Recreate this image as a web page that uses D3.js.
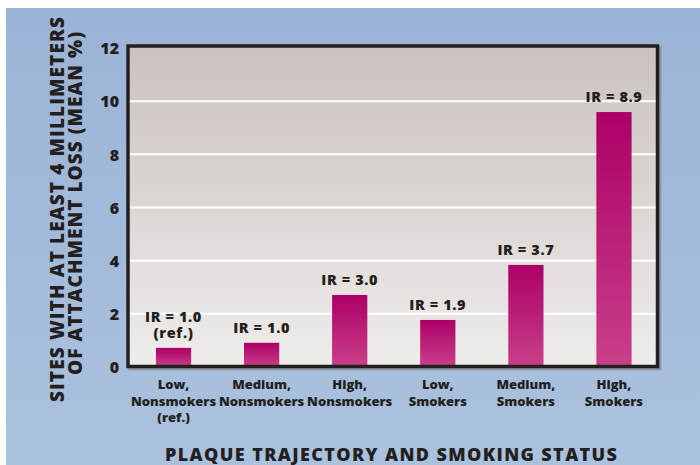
<!DOCTYPE html>
<html>
<head>
<meta charset="utf-8">
<script src="https://cdn.jsdelivr.net/npm/d3@7"></script>
<style>
  html, body { margin: 0; padding: 0; background: #fff; }
  svg { display: block; }
  text { font-family: "Open Sans", "Lato", "DejaVu Sans", sans-serif; font-weight: 800; fill: #231f20; }
</style>
</head>
<body>
<svg id="chart" width="700" height="465"></svg>
<script>
// Group labels (one entry per line of the tick label)
const categories = [
  ["Low,", "Nonsmokers", "(ref.)"],
  ["Medium,", "Nonsmokers"],
  ["High,", "Nonsmokers"],
  ["Low,", "Smokers"],
  ["Medium,", "Smokers"],
  ["High,", "Smokers"]
];
// Mean % of sites with >= 4 mm attachment loss
const values = [0.72, 0.91, 2.71, 1.77, 3.84, 9.59];
// Incidence-ratio annotations above each bar
const irLabels = [
  ["IR = 1.0", "(ref.)"],
  ["IR = 1.0"],
  ["IR = 3.0"],
  ["IR = 1.9"],
  ["IR = 3.7"],
  ["IR = 8.9"]
];
const yTicks = [0, 2, 4, 6, 8, 10, 12];
const yTitle = ["SITES WITH AT LEAST 4 MILLIMETERS", "OF ATTACHMENT LOSS (MEAN %)"];
const xTitle = "PLAQUE TRAJECTORY AND SMOKING STATUS";

const svg = d3.select("#chart");
const defs = svg.append("defs");

const bgGrad = defs.append("linearGradient").attr("id", "bgGrad")
  .attr("x1", 0).attr("y1", 0).attr("x2", 0).attr("y2", 1);
bgGrad.append("stop").attr("offset", 0).attr("stop-color", "#9bb3d6");
bgGrad.append("stop").attr("offset", 1).attr("stop-color", "#abc2de");

const plotGrad = defs.append("linearGradient").attr("id", "plotGrad")
  .attr("x1", 0).attr("y1", 0).attr("x2", 0).attr("y2", 1);
plotGrad.append("stop").attr("offset", 0).attr("stop-color", "#cac2be");
plotGrad.append("stop").attr("offset", 1).attr("stop-color", "#efecea");

const barGrad = defs.append("linearGradient").attr("id", "barGrad")
  .attr("x1", 0).attr("y1", 0).attr("x2", 0).attr("y2", 1);
barGrad.append("stop").attr("offset", 0).attr("stop-color", "#ad0067");
barGrad.append("stop").attr("offset", 1).attr("stop-color", "#c9408a");

// page background panel
svg.append("rect").attr("x", 6).attr("y", 8).attr("width", 694).attr("height", 457)
  .attr("fill", "url(#bgGrad)");

const plot = { left: 128, top: 46, right: 657.5, bottom: 366.5 };

const x = d3.scaleBand()
  .domain(d3.range(categories.length))
  .range([129.5, 658])
  .paddingInner(0.6)
  .paddingOuter(0.3);

const y = d3.scaleLinear().domain([0, 12]).range([367, 48]);

// frame shadow
svg.append("rect")
  .attr("x", plot.left + 2).attr("y", plot.top + 2)
  .attr("width", plot.right - plot.left).attr("height", plot.bottom - plot.top)
  .attr("fill", "none").attr("stroke", "#8c929c").attr("stroke-width", 3.5);

// plot area
svg.append("rect")
  .attr("x", plot.left).attr("y", plot.top)
  .attr("width", plot.right - plot.left).attr("height", plot.bottom - plot.top)
  .attr("fill", "url(#plotGrad)");

// gridlines
svg.append("g").selectAll("line")
  .data(yTicks.filter(t => t > 0 && t < 12))
  .join("line")
  .attr("x1", plot.left).attr("x2", plot.right)
  .attr("y1", d => y(d)).attr("y2", d => y(d))
  .attr("stroke", "#ffffff").attr("stroke-width", 2);

// bars
svg.append("g").selectAll("rect")
  .data(values)
  .join("rect")
  .attr("x", (d, i) => x(i))
  .attr("width", x.bandwidth())
  .attr("y", d => y(d))
  .attr("height", d => y(0) - y(d))
  .attr("fill", "url(#barGrad)");

// IR annotations
const ann = svg.append("g").selectAll("text")
  .data(irLabels)
  .join("text")
  .attr("text-anchor", "middle")
  .attr("font-size", 14.5)
  .attr("letter-spacing", 0.6)
  .attr("x", (d, i) => x(i) + x.bandwidth() / 2)
  .attr("y", (d, i) => y(values[i]) - 10 - (d.length - 1) * 16);
ann.selectAll("tspan")
  .data(d => d)
  .join("tspan")
  .attr("x", function () { return d3.select(this.parentNode).attr("x"); })
  .attr("dy", (d, j) => j === 0 ? 0 : 16)
  .text(d => d);

// frame
svg.append("rect")
  .attr("x", plot.left).attr("y", plot.top)
  .attr("width", plot.right - plot.left).attr("height", plot.bottom - plot.top)
  .attr("fill", "none").attr("stroke", "#231f20").attr("stroke-width", 3.5);

// y axis tick labels
const yAxis = d3.axisLeft(y).tickValues(yTicks).tickSize(0).tickPadding(0);
const gy = svg.append("g").attr("transform", "translate(119,0)").call(yAxis);
gy.select(".domain").remove();
gy.selectAll("text")
  .attr("font-size", 16)
  .attr("font-family", null)
  .attr("fill", "#231f20")
  .attr("dy", "0.36em");

// x axis labels
const xl = svg.append("g").selectAll("text")
  .data(categories)
  .join("text")
  .attr("text-anchor", "middle")
  .attr("font-size", 13)
  .attr("x", (d, i) => x(i) + x.bandwidth() / 2)
  .attr("y", 389);
xl.selectAll("tspan")
  .data(d => d)
  .join("tspan")
  .attr("x", function () { return d3.select(this.parentNode).attr("x"); })
  .attr("dy", (d, j) => j === 0 ? 0 : 16.5)
  .text(d => d);

// y axis title
svg.append("text")
  .attr("transform", "translate(64,209.5) rotate(-90)")
  .attr("text-anchor", "middle").attr("font-size", 19)
  .attr("textLength", 385).attr("lengthAdjust", "spacing")
  .text(yTitle[0]);
svg.append("text")
  .attr("transform", "translate(82,203.5) rotate(-90)")
  .attr("text-anchor", "middle").attr("font-size", 19)
  .attr("textLength", 343).attr("lengthAdjust", "spacing")
  .text(yTitle[1]);

// x axis title
svg.append("text")
  .attr("x", 391).attr("y", 461)
  .attr("text-anchor", "middle").attr("font-size", 18)
  .attr("textLength", 452).attr("lengthAdjust", "spacing")
  .text(xTitle);
</script>
</body>
</html>
